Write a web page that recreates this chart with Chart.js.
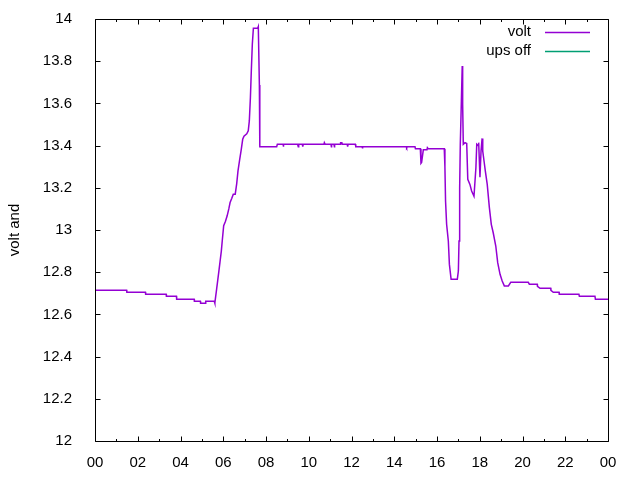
<!DOCTYPE html>
<html>
<head>
<meta charset="utf-8">
<script src="https://cdn.jsdelivr.net/npm/chart.js@4/dist/chart.umd.min.js"></script>
<style>
html,body{margin:0;padding:0;background:#fff;}
#wrap{width:640px;height:480px;}
</style>
</head>
<body>
<div id="wrap"><canvas id="c" width="640" height="480"></canvas></div>
<script>
// ---- data (hours of day, volts) ----
const voltHours = [
 0.00,1.48,1.49,2.36,2.37,3.33,3.34,3.81,3.82,4.64,4.65,4.93,4.94,5.17,5.18,5.58,5.60,
 5.614,5.69,5.74,5.79,5.85,5.91,5.96,6.02,6.10,6.18,6.26,6.32,6.40,6.47,6.56,6.63,6.69,6.77,6.84,6.91,6.97,7.10,7.17,
 7.22,7.27,7.31,7.36,7.41,7.61,7.64,7.67,7.69,7.71,
 8.50,8.53,8.80,8.81,8.83,9.48,9.51,9.53,9.70,9.72,9.74,10.71,10.73,10.77,11.04,11.06,11.07,11.18,11.20,11.21,
 11.48,11.49,11.55,11.57,11.80,11.82,11.84,12.18,12.20,12.49,12.51,12.52,14.56,14.58,14.61,14.97,14.99,
 15.22,15.25,15.28,15.36,15.53,15.55,15.59,16.34,16.37,16.40,16.45,16.53,16.58,16.66,16.95,17.00,17.03,17.06,17.09,
 17.14,17.18,17.20,17.23,17.31,17.39,17.44,17.54,17.62,17.73,17.82,17.86,17.92,17.95,18.01,18.06,18.11,18.14,18.20,
 18.26,18.35,18.45,18.54,18.63,18.75,18.84,18.95,19.05,19.15,19.34,19.45,20.27,20.32,20.69,20.70,20.82,21.32,21.33,
 21.44,21.71,21.72,22.64,22.66,23.39,23.41,24.00
];
const voltValues = [
 12.714,12.714,12.705,12.705,12.695,12.695,12.686,12.686,12.672,12.672,12.662,12.662,12.653,12.653,12.662,12.662,12.653,
 12.655,12.72,12.76,12.80,12.85,12.90,12.956,13.02,13.04,13.066,13.10,13.13,13.15,13.17,13.17,13.22,13.28,13.335,13.38,13.43,13.445,13.456,13.47,
 13.517,13.627,13.745,13.88,13.956,13.956,13.964,13.964,13.687,13.395,
 13.395,13.406,13.406,13.395,13.406,13.406,13.395,13.406,13.406,13.395,13.406,13.406,13.414,13.406,13.406,13.395,13.406,13.406,13.395,13.406,
 13.406,13.414,13.414,13.406,13.406,13.395,13.406,13.406,13.395,13.395,13.39,13.395,13.395,13.39,13.395,13.395,13.385,
 13.385,13.316,13.32,13.38,13.38,13.39,13.385,13.385,13.30,13.137,13.027,12.948,12.837,12.766,12.766,12.806,12.948,13.20,13.406,
 13.61,13.777,13.597,13.406,13.414,13.41,13.24,13.216,13.185,13.16,13.295,13.406,13.40,13.414,13.25,13.374,13.434,13.374,13.327,
 13.28,13.216,13.106,13.027,12.987,12.924,12.845,12.79,12.758,12.735,12.735,12.752,12.752,12.743,12.743,12.733,12.724,12.724,12.714,
 12.705,12.705,12.695,12.695,12.686,12.686,12.672,12.672
];
const upsOffHours = [];
const upsOffValues = [];

const seriesNames = ['volt', 'ups off'];
const xTickValues = [0,2,4,6,8,10,12,14,16,18,20,22,24];
const xTickLabels = ['00','02','04','06','08','10','12','14','16','18','20','22','00'];
const xMinorTicks = [1,3,5,7,9,11,13,15,17,19,21,23];
const yTickValues = [12,12.2,12.4,12.6,12.8,13,13.2,13.4,13.6,13.8,14];
const yTickLabels = ['12','12.2','12.4','12.6','12.8','13','13.2','13.4','13.6','13.8','14'];
const yAxisTitle = 'volt and';

// ---- chart ----
const FONT = "'Liberation Sans', Arial, sans-serif";
const FS = 15;
Chart.defaults.color = '#000';
Chart.defaults.font.family = FONT;
Chart.defaults.font.size = FS;

const frame = {
  id: 'frame',
  afterDraw(chart) {
    const ctx = chart.ctx, a = chart.chartArea;
    const xs = chart.scales.x, ys = chart.scales.y;
    ctx.save();
    ctx.strokeStyle = '#000';
    ctx.lineWidth = 1;
    ctx.beginPath();
    const L = Math.round(a.left) + 0.5, R = Math.round(a.right) + 0.5;
    const T = Math.round(a.top) + 0.5, B = Math.round(a.bottom) + 0.5;
    ctx.rect(L, T, R - L, B - T);
    const major = 5, minor = 2.5;
    xTickValues.forEach(v => {
      const px = Math.round(xs.getPixelForValue(v)) + 0.5;
      ctx.moveTo(px, B); ctx.lineTo(px, B - major);
      ctx.moveTo(px, T); ctx.lineTo(px, T + major);
    });
    xMinorTicks.forEach(v => {
      const px = Math.round(xs.getPixelForValue(v)) + 0.5;
      ctx.moveTo(px, B); ctx.lineTo(px, B - minor);
      ctx.moveTo(px, T); ctx.lineTo(px, T + minor);
    });
    yTickValues.forEach(v => {
      const py = Math.round(ys.getPixelForValue(v)) + 0.5;
      ctx.moveTo(L, py); ctx.lineTo(L + major, py);
      ctx.moveTo(R, py); ctx.lineTo(R - major, py);
    });
    ctx.stroke();
    // legend (top right, inside)
    ctx.font = FS + 'px ' + FONT;
    ctx.textAlign = 'right';
    ctx.textBaseline = 'middle';
    chart.data.datasets.forEach((ds, i) => {
      const y = 32 + i * 19;
      ctx.fillStyle = '#000';
      ctx.fillText(ds.label, 531, y);
      ctx.strokeStyle = ds.borderColor;
      ctx.lineWidth = 1.5;
      ctx.beginPath();
      ctx.moveTo(545, y + 0.5); ctx.lineTo(590, y + 0.5);
      ctx.stroke();
    });
    ctx.restore();
  }
};

new Chart(document.getElementById('c'), {
  type: 'line',
  data: {
    datasets: [
      {
        label: seriesNames[0],
        data: voltHours.map((h, i) => ({x: h, y: voltValues[i]})),
        borderColor: '#9400d3',
        backgroundColor: '#9400d3',
        borderWidth: 1.5,
        pointRadius: 0,
        tension: 0,
        fill: false
      },
      {
        label: seriesNames[1],
        data: upsOffHours.map((h, i) => ({x: h, y: upsOffValues[i]})),
        borderColor: '#009e73',
        backgroundColor: '#009e73',
        borderWidth: 1.5,
        pointRadius: 0,
        fill: false
      }
    ]
  },
  options: {
    responsive: false,
    animation: false,
    events: [],
    layout: { padding: { left: 0, top: 19, right: 32, bottom: 0 } },
    plugins: { legend: { display: false }, tooltip: { enabled: false }, title: { display: false } },
    scales: {
      x: {
        type: 'linear',
        min: 0, max: 24,
        grid: { display: false },
        border: { display: false },
        afterBuildTicks: s => { s.ticks = xTickValues.map(v => ({value: v})); },
        afterFit: s => { s.height = 39; s.paddingLeft = 0; s.paddingRight = 0; },
        ticks: {
          padding: 5,
          maxRotation: 0,
          autoSkip: false,
          callback: (v, i) => xTickLabels[i]
        }
      },
      y: {
        type: 'linear',
        min: 12, max: 14,
        grid: { display: false },
        border: { display: false },
        afterBuildTicks: s => { s.ticks = yTickValues.map(v => ({value: v})); },
        afterFit: s => { s.width = 95; s.paddingTop = 0; s.paddingBottom = 0; },
        title: { display: true, text: yAxisTitle, padding: { top: 6, bottom: 0 } },
        ticks: {
          padding: 15,
          autoSkip: false,
          callback: (v, i) => yTickLabels[i]
        }
      }
    }
  },
  plugins: [frame]
});
</script>
</body>
</html>
